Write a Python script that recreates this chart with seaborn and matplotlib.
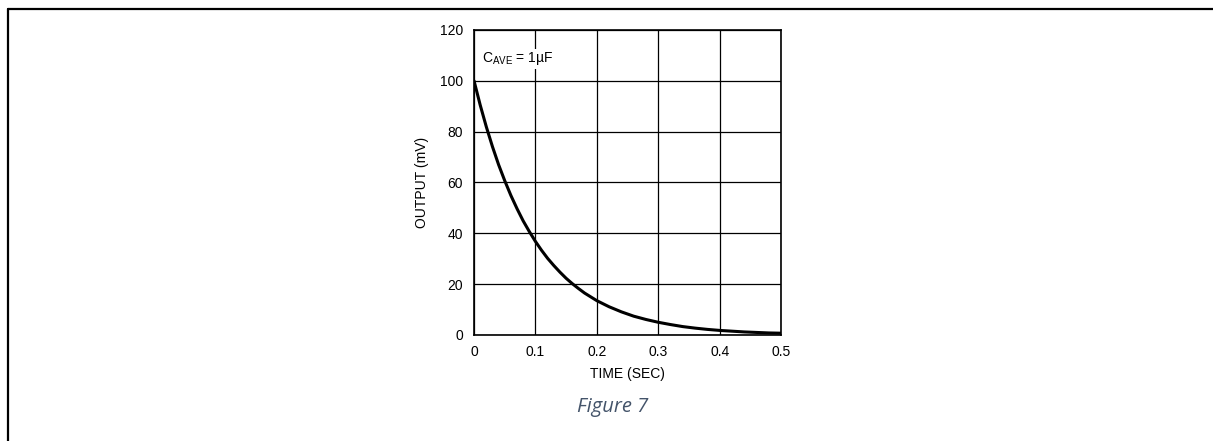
import numpy as np
import pandas as pd
import matplotlib
matplotlib.use("Agg")
import matplotlib.pyplot as plt
from matplotlib.lines import Line2D
import seaborn as sns

# Data
time_sec = [0.00, 0.01, 0.02, 0.03, 0.04, 0.05, 0.06, 0.07, 0.08, 0.09, 0.10,
            0.11, 0.12, 0.13, 0.14, 0.15, 0.16, 0.17, 0.18, 0.19, 0.20,
            0.22, 0.24, 0.26, 0.28, 0.30, 0.32, 0.34, 0.36, 0.38, 0.40,
            0.42, 0.44, 0.46, 0.48, 0.50]
output_mv = [100.0, 90.5, 81.9, 74.1, 67.0, 60.7, 54.9, 49.7, 44.9, 40.7, 36.8,
             33.3, 30.1, 27.3, 24.7, 22.3, 20.2, 18.3, 16.5, 15.0, 13.5,
             11.1, 9.1, 7.4, 6.1, 5.0, 4.1, 3.3, 2.7, 2.2, 1.8,
             1.5, 1.2, 1.0, 0.8, 0.7]
x_ticks = [0, 0.1, 0.2, 0.3, 0.4, 0.5]
x_tick_labels = ["0", "0.1", "0.2", "0.3", "0.4", "0.5"]
y_ticks = [0, 20, 40, 60, 80, 100, 120]
y_tick_labels = ["0", "20", "40", "60", "80", "100", "120"]

sns.set_theme(style="white")
font_main = ["Liberation Sans", "DejaVu Sans"]
plt.rcParams["font.family"] = font_main
plt.rcParams["mathtext.fontset"] = "custom"
plt.rcParams["mathtext.rm"] = "Liberation Sans"
plt.rcParams["mathtext.it"] = "Liberation Sans:italic"

fig = plt.figure(figsize=(12.13, 4.41), dpi=100)
ax = fig.add_axes([0.3908, 0.2404, 0.2531, 0.6916])

df = pd.DataFrame({"t": time_sec, "v": output_mv})
sns.lineplot(data=df, x="t", y="v", ax=ax, color="black", linewidth=2.2)

ax.set_xlim(0, 0.5)
ax.set_ylim(0, 120)
ax.set_xticks(x_ticks)
ax.set_xticklabels(x_tick_labels)
ax.set_yticks(y_ticks)
ax.set_yticklabels(y_tick_labels)
ax.tick_params(axis="both", length=0, labelsize=10, colors="black")
ax.tick_params(axis="x", pad=7)
ax.tick_params(axis="y", pad=8)
ax.grid(True, color="black", linewidth=0.9)
for s in ax.spines.values():
    s.set_color("black")
    s.set_linewidth(1.2)
ax.set_xlabel("TIME (SEC)", fontsize=10, color="black", labelpad=6)
ax.set_ylabel("OUTPUT (mV)", fontsize=10, color="black", labelpad=8)

ax.text(0.025, 0.905, r"$\mathrm{C}_{\mathrm{AVE}}$ = 1µF", transform=ax.transAxes,
        fontsize=10, color="black", ha="left", va="center",
        bbox=dict(facecolor="white", edgecolor="none", pad=1))

fig.text(0.505, 0.077, "Figure 7", fontsize=14.5, style="italic",
         family=["Open Sans", "DejaVu Sans"], color="#44546A",
         ha="center", va="center")

# page frame (top and left rules)
fig.add_artist(Line2D([0.0062, 1.0], [0.9785, 0.9785], transform=fig.transFigure,
                      color="black", linewidth=1.6))
fig.add_artist(Line2D([0.0062, 0.0062], [0.0, 0.9785], transform=fig.transFigure,
                      color="black", linewidth=1.6))

fig.savefig("out.png", dpi=100, facecolor="white")
